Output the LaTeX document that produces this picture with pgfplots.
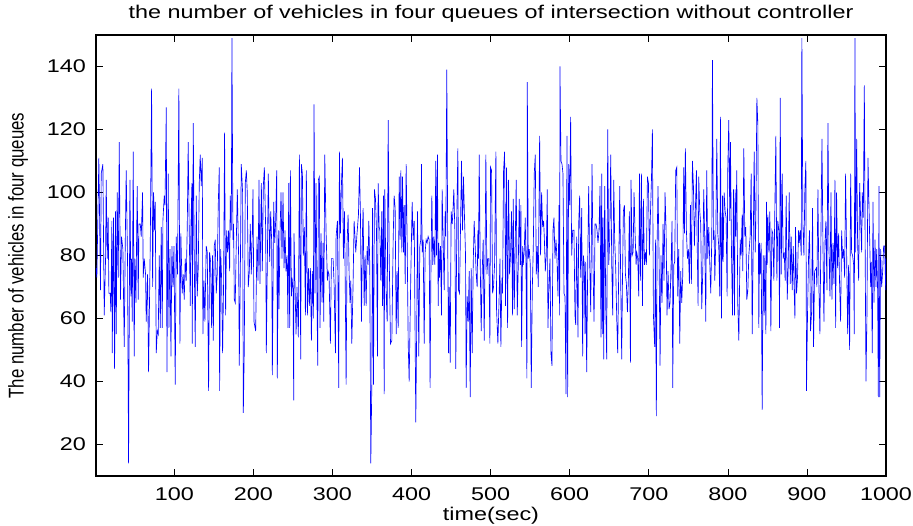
\documentclass[border=0pt]{standalone}
\usepackage{pgfplots}
\pgfplotsset{compat=1.18}
\usepackage{fontspec}
\setmainfont{Liberation Sans}
\newcommand{\sx}[1]{\scalebox{1.27}[1]{#1}}
\begin{document}
\begin{tikzpicture}
\path[use as bounding box] (-96pt,-50pt) rectangle (817pt,476pt);
\begin{axis}[
  scale only axis, width=790pt, height=441pt,
  at={(0,0)}, anchor=south west,
  xmin=1, xmax=1000, ymin=10, ymax=150,
  xtick={100,200,...,1000}, ytick={20,40,...,140},
  tick pos=both, tick align=inside, major tick length=7pt,
  every tick/.style={black, line width=0.6pt},
  axis line style={line width=1.2pt},
  font=\fontsize{18.4}{22}\selectfont,
  /pgf/number format/assume math mode=true,
  /pgf/number format/1000 sep={},
  xticklabel={\sx{\pgfmathprintnumber{\tick}}},
  yticklabel={\sx{\pgfmathprintnumber{\tick}}},
  xticklabel style={anchor=base, inner sep=0pt, yshift=-25pt},
  yticklabel style={anchor=east, inner sep=0pt, xshift=-10pt},
  title={\sx{the number of vehicles in four queues of intersection without controller}},
  title style={at={(axis description cs:0.5,1.0249)}, anchor=base, inner sep=0pt},
  xlabel={\sx{time(sec)}},
  xlabel style={at={(axis description cs:0.5,-0.101)}, anchor=base, inner sep=0pt},
  ylabel={\scalebox{1}[1.27]{\fontsize{16.8}{20}\selectfont The number of vehicles in four queues}},
  ylabel style={at={(axis description cs:-0.0987,0.5)}, anchor=center, rotate=0, inner sep=0pt},
]
\addplot[blue, line width=0.65pt] table {
t v
1 76
2.1 73
4.6 111
6.7 69
7.6 106
9.7 109
11.4 61
13.1 79
13.9 104
15.2 79
16.4 92
17.3 68
19.0 68
19.8 62
21.1 91
21.5 49
23.2 92
24.5 44
25.7 94
26.6 55
27.8 100
29.1 73
30.4 116
32.0 66
33.3 86
35.0 82
36.7 51
38.0 84
39.2 107
40.9 78
42.2 14
43.9 104
45.1 67
46.0 79
46.8 59
48.1 113
49.3 48
50.2 79
51.5 65
52.3 84
53.1 102
54.4 66
55.3 90
57.0 90
58.2 86
59.9 100
60.7 73
62.0 79
63.7 74
64.5 59
66.2 74
67.5 43
69.6 83
71.3 133
72.6 70
73.8 100
75.1 88
75.9 97
77.2 49
78.5 56
79.7 55
81.0 80
82.3 57
83.5 89
84.8 57
85.6 91
87.3 99
88.2 96
89.9 127
90.7 43
92.4 106
93.2 57
94.5 82
95.8 48
97.0 83
98.3 70
99.6 83
101.2 39
102.4 86
104.1 74
105.8 133
107.1 52
108.3 87
110.0 68
111.3 74
112.6 66
113.8 79
115.1 72
116.4 89
117.6 116
118.9 88
120.2 64
121.0 89
122.3 103
122.7 52
124.0 122
125.2 80
126.5 51
127.8 99
129.0 67
130.3 76
131.6 103
132.8 112
134.1 102
135.4 111
136.2 55
137.5 72
138.7 59
140.4 83
141.7 81
143.4 37
144.6 81
145.9 78
147.2 57
148.4 80
149.3 53
150.5 83
151.8 85
153.1 68
154.3 74
155.6 96
156.9 108
157.3 37
158.6 82
159.8 73
161.1 49
162.4 72
163.6 119
164.9 61
166.2 88
167.4 81
168.7 88
170.0 75
170.8 99
172.1 88
172.9 149
174.2 85
175.0 90
175.9 66
177.1 65
178.4 84
179.7 101
181.4 79
182.2 45
183.5 74
184.7 109
186.4 100
187.3 30
188.5 50
189.8 103
191.1 107
192.3 100
193.6 70
194.9 75
196.1 90
197.4 74
198.7 88
199.5 101
200.8 59
202.9 56
204.6 86
205.9 72
207.1 104
208.4 71
210.1 103
211.3 75
212.6 102
213.9 108
215.6 88
216.4 49
217.7 79
218.9 106
220.6 78
221.9 94
223.2 84
224.0 42
225.7 97
227.0 84
228.2 91
229.5 107
230.3 41
231.6 88
232.4 63
233.7 87
235.0 100
236.2 79
237.5 100
238.8 76
240.0 88
241.3 75
242.6 80
243.8 57
244.7 103
245.9 57
246.8 107
248.1 67
248.9 73
250.2 69
251.0 34
251.4 87
252.7 70
254.0 55
255.2 70
256.9 54
258.2 112
259.9 47
260.7 109
262.0 106
263.2 80
264.5 89
265.8 61
267.0 107
268.3 61
269.6 76
270.8 64
272.1 76
273.4 53
274.6 75
275.9 60
276.7 128
278.0 68
279.3 103
280.5 64
281.4 45
282.2 104
283.5 105
284.3 57
285.6 87
286.9 65
288.1 84
289.0 59
290.3 112
291.9 88
293.6 72
294.5 75
295.7 74
297.4 52
298.7 79
300.8 79
302.1 71
303.8 49
304.6 86
306.3 91
308.0 38
308.8 113
310.1 87
311.4 103
312.6 111
313.9 79
315.2 94
316.0 76
317.3 39
318.5 84
319.8 93
321.1 74
322.3 65
323.2 72
324.5 52
326.1 71
327.4 91
328.7 85
329.5 81
330.8 86
332.9 93
334.2 108
335.4 93
336.7 59
338.0 88
338.8 95
340.1 64
341.3 80
342.6 64
343.9 83
345.1 77
346.0 91
347.2 77
348.5 14
349.8 39
350.6 95
351.9 39
353.1 101
354.4 98
355.7 88
356.9 48
357.8 103
359.1 89
359.9 88
361.2 72
362.4 94
363.3 64
364.5 99
365.4 36
366.2 101
367.9 68
369.2 59
370.5 123
371.7 81
373.4 52
375.1 53
376.8 85
378.0 99
379.3 95
380.6 55
381.8 75
383.1 57
384.4 105
385.6 85
386.5 107
387.8 81
388.6 105
389.9 81
390.7 96
392.0 71
393.2 109
394.5 84
395.8 52
397.0 40
399.1 74
400.8 97
402.1 85
403.4 91
405.4 27
406.7 61
407.5 94
409.2 48
410.5 83
411.7 85
412.6 109
413.4 81
414.7 85
416.0 52
417.2 81
418.5 85
419.7 84
421.0 86
422.3 85
423.5 38
424.4 72
425.7 99
426.9 77
428.2 86
429.5 77
430.7 110
431.6 80
432.8 112
433.7 64
434.5 84
435.4 73
436.6 83
437.9 61
438.7 101
440.0 85
441.3 69
442.5 94
443.4 86
444.6 139
445.9 79
446.8 49
447.6 70
448.9 46
450.1 94
451.4 90
452.2 93
453.5 101
454.8 88
456.0 44
457.3 93
458.6 114
459.4 69
460.7 68
461.9 88
463.2 110
464.5 88
465.7 105
467.0 92
468.3 80
469.1 38
470.4 67
471.7 59
472.9 75
474.2 35
475.4 76
476.7 49
478.0 77
479.2 91
480.5 83
481.8 74
483.0 70
483.9 88
484.7 79
485.6 112
486.8 79
488.1 56
489.4 75
490.6 85
491.9 53
493.2 85
494.0 112
495.3 74
496.5 79
497.8 79
499.1 52
499.9 108
501.2 107
502.5 68
503.7 70
505.0 77
506.7 113
507.5 63
509.2 52
510.5 64
511.8 79
513.0 51
514.3 73
515.1 68
516.4 107
517.7 113
518.9 64
520.2 108
521.5 57
522.7 104
524.0 74
525.3 81
526.5 94
527.8 61
528.6 98
529.9 63
531.2 85
532.4 104
533.7 61
535.0 77
536.2 98
537.5 77
538.3 96
539.2 51
540.5 83
541.3 77
542.6 82
543.8 92
544.7 77
545.9 41
546.4 135
547.6 79
548.9 82
550.2 77
551.4 38
552.7 69
554.0 83
555.2 106
556.5 112
557.8 74
559.0 83
560.3 70
562.0 118
563.2 80
564.5 100
565.8 89
567.0 91
567.9 86
569.2 75
570.4 80
571.7 101
572.5 57
573.8 70
575.1 79
576.3 49
577.6 45
578.9 88
580.1 92
581.4 79
582.7 85
583.9 79
585.2 67
586.5 96
587.3 61
587.7 140
589.0 110
590.3 109
591.5 106
592.8 68
594.1 67
595.3 36
596.6 118
597.4 35
598.7 109
600.0 96
601.2 124
602.5 80
603.8 88
605.4 88
606.7 61
607.6 58
608.8 86
610.5 54
611.4 90
612.6 99
613.9 73
615.2 95
616.4 48
617.3 80
618.5 77
619.4 55
620.2 78
621.5 43
622.8 77
624.0 102
625.3 78
626.6 62
628.3 109
629.5 77
630.8 59
632.1 90
633.3 90
634.6 88
635.8 84
637.1 88
638.4 102
639.6 54
640.5 106
641.3 55
642.2 92
643.0 47
644.3 102
645.6 64
646.8 47
648.1 120
649.4 77
650.6 85
651.9 112
653.2 77
654.4 61
655.7 104
656.9 85
658.2 76
659.5 60
660.7 49
662.0 75
663.3 102
664.5 72
665.8 47
666.7 71
667.9 94
669.2 96
670.5 74
671.7 71
673.0 62
674.3 73
675.5 94
676.8 46
677.6 104
678.9 80
680.2 81
681.4 100
682.7 87
684.0 77
684.8 81
686.1 79
687.3 67
688.2 106
689.4 72
690.7 106
692.0 64
693.2 98
694.5 77
695.8 81
697.0 77
698.3 105
699.6 103
700.8 80
702.1 93
703.4 104
704.6 120
705.9 61
707.5 51
708.4 85
709.6 29
710.5 83
711.7 102
713.0 80
714.3 45
715.5 80
716.8 65
718.1 90
719.3 72
720.6 100
721.9 88
723.1 61
724.4 75
725.7 63
726.9 65
728.2 77
729.5 91
730.3 38
731.6 77
732.8 78
734.1 107
735.4 108
736.6 67
737.9 82
739.2 52
740.4 75
741.7 65
743.0 74
744.2 108
745.1 87
746.3 114
747.6 88
748.9 79
750.1 82
751.4 71
752.7 96
753.9 71
755.2 110
756.5 102
757.7 83
759.0 95
760.3 107
761.1 86
762.4 64
763.2 105
764.5 94
765.7 90
767.0 63
768.3 75
769.5 101
770.8 85
772.1 59
773.3 107
774.6 79
775.9 89
777.1 78
778.4 68
779.7 86
780.5 142
781.8 85
782.6 88
783.5 72
784.7 84
786.0 117
787.3 87
788.5 83
789.8 67
790.6 124
791.9 60
793.2 99
794.0 78
795.3 100
796.6 94
797.8 92
799.1 67
799.9 107
801.2 123
802.5 91
803.3 116
804.6 81
805.9 61
807.1 101
808.4 61
809.2 101
810.1 86
811.3 107
812.6 64
813.9 53
815.6 85
816.8 80
818.1 93
818.9 75
820.2 114
821.5 86
822.7 89
824.0 66
825.3 69
826.5 80
828.2 86
829.5 106
830.8 55
832.0 81
833.3 113
834.6 81
835.4 91
836.7 130
837.9 122
839.2 57
840.0 84
840.9 74
842.1 84
843.4 31
844.7 80
845.9 61
846.8 80
848.1 55
848.9 97
849.7 77
850.6 93
851.9 81
853.1 94
854.4 56
855.7 88
856.9 87
858.2 72
859.4 94
860.7 118
862.0 72
863.2 91
864.5 88
865.4 57
866.2 130
867.5 74
868.7 106
870.0 79
871.3 81
872.5 72
873.8 99
875.1 66
876.3 76
877.6 100
878.9 71
880.1 86
881.4 69
882.7 83
883.9 69
884.8 60
885.6 89
886.9 68
888.1 73
889.4 88
890.3 84
891.5 88
892.8 80
893.6 149
894.9 90
896.2 80
897.4 101
898.7 110
899.5 37
900.8 62
902.1 80
903.3 88
904.6 56
905.9 62
907.1 95
908.4 51
909.7 75
911.8 76
912.6 70
913.9 101
915.2 70
916.4 55
917.7 86
919.0 117
920.2 85
921.5 59
922.8 84
924.0 91
925.3 69
926.6 122
927.8 83
929.1 67
930.4 100
931.6 66
932.9 84
934.2 71
935.4 104
936.3 57
937.5 100
938.8 76
940.1 87
941.3 71
942.6 59
943.9 88
945.1 79
946.4 82
947.7 73
948.9 106
950.2 81
951.5 55
952.7 77
954.0 50
955.3 106
956.5 81
957.8 80
959.1 77
959.9 55
960.7 149
961.6 81
962.9 117
964.1 84
965.4 72
966.7 103
967.9 92
969.2 81
970.0 100
971.3 92
972.6 134
973.8 75
974.7 40
975.9 61
977.2 111
978.5 96
979.3 86
980.6 70
981.4 78
982.7 49
983.5 97
984.8 65
986.1 85
987.3 70
988.2 82
989.4 69
990.3 35
991.1 102
992.0 35
993.2 82
994.5 70
995.8 75
997.0 83
998.3 83
999.6 69
1000 79
};
\end{axis}
\end{tikzpicture}
\end{document}
